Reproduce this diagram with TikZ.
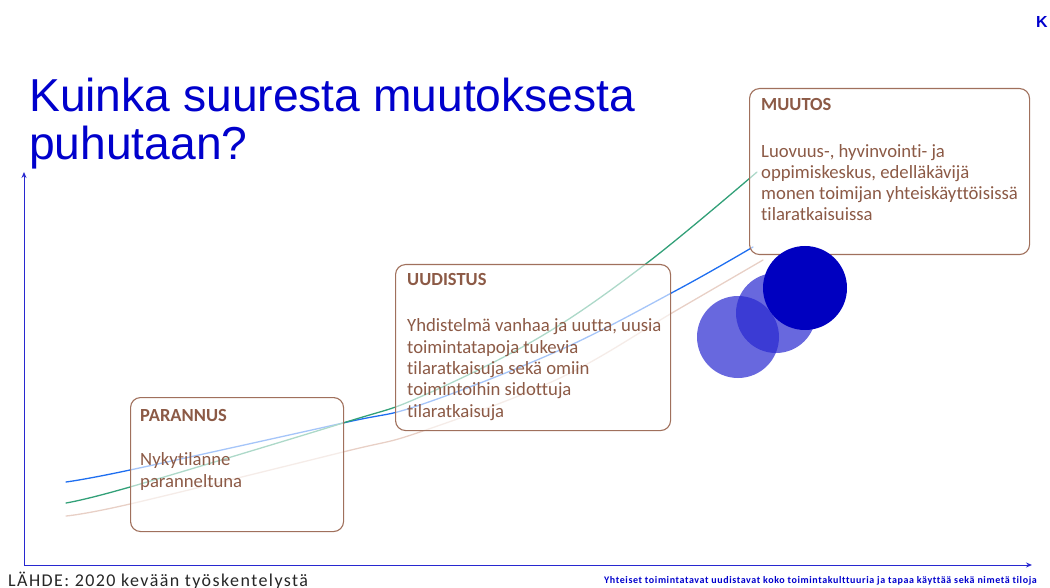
\documentclass[tikz,border=0pt]{standalone}
\usepackage{fontspec}
\setmainfont[Ligatures=NoCommon]{Carlito}
\newfontfamily\arialf{Liberation Sans}
\newfontfamily\spacedf[LetterSpace=8,Ligatures=NoCommon]{Carlito}
\newfontfamily\spacedbf[LetterSpace=6,Ligatures=NoCommon]{Carlito Bold}
\definecolor{titleblue}{RGB}{0,0,204}
\definecolor{axisblue}{RGB}{40,40,208}
\definecolor{boxtext}{RGB}{140,90,70}
\definecolor{boxline}{RGB}{160,112,92}
\definecolor{cblue}{RGB}{30,110,240}
\definecolor{cgreen}{RGB}{50,160,120}
\definecolor{cbeige}{RGB}{232,208,198}
\definecolor{dotdark}{RGB}{0,0,192}
\definecolor{dotlight}{RGB}{40,40,208}
\usetikzlibrary{arrows.meta}
\tikzset{
  stagebox/.style={draw=boxline, line width=1.1pt, rounded corners=10pt, fill=white, fill opacity=0.6, anchor=north west, inner sep=0pt},
  boxhead/.style={anchor=base west, inner sep=0pt, text=boxtext, font=\fontsize{18.5}{21}\selectfont\bfseries},
  boxbody/.style={anchor=base west, inner sep=0pt, text=boxtext, font=\fontsize{18.7}{21.3}\selectfont, align=left},
  curve/.style={line width=1.3pt, line cap=round},
  axis/.style={draw=axisblue, line width=1pt, -{Stealth[length=6pt,width=5pt]}},
  dot/.style={circle, inner sep=0pt, minimum size=#1}
}
\begin{document}
\begin{tikzpicture}[x=1pt,y=-1pt]
\useasboundingbox (0,0) rectangle (1050,588);
% title
\node[anchor=base west, inner sep=0pt, text=titleblue, font=\arialf\fontsize{46.2}{48}\selectfont] (t1) at (29,112) {Kuinka suuresta muutoksesta};
\node[anchor=base west, inner sep=0pt, text=titleblue, font=\arialf\fontsize{46.2}{48}\selectfont] (t2) at (29,160) {puhutaan?};
\node[anchor=base west, inner sep=0pt, text=titleblue, font=\arialf\bfseries\fontsize{16}{18}\selectfont] (k) at (1036,28) {K};
% axes
\coordinate (o) at (24,565);
\coordinate (ytop) at (24,172);
\coordinate (xend) at (1032,565);
\draw[axis] (o) -- (ytop);
\draw[axis] (o) -- (xend);
% curves
\draw[curve, cbeige] plot[smooth, tension=0.6] coordinates {(66,516) (130,504) (343,452) (420,432) (560,378) (677,310) (763,260)};
\draw[curve, cblue] plot[smooth, tension=0.6] coordinates {(66,482) (130,470) (343,423) (420,405) (560,350) (677,290) (753,247)};
\draw[curve, cgreen] plot[smooth, tension=0.6] coordinates {(66,503) (130,487) (343,423) (420,397) (540,337) (647,263) (757,172)};
% boxes
\node[stagebox, minimum width=213pt, minimum height=134pt] (par) at (130,397) {};
\node[stagebox, minimum width=275pt, minimum height=166pt] (uud) at (395,264) {};
\node[stagebox, minimum width=280pt, minimum height=166pt] (muu) at (749,88) {};
\node[boxhead] (parh) at (140,421) {PARANNUS};
\node[boxbody] (parb) at (140,487) {Nykytilanne\\paranneltuna};
\node[boxhead] (uudh) at (407,286) {UUDISTUS};
\node[boxbody] (uudb) at (407,417) {Yhdistelmä vanhaa ja uutta, uusia\\toimintatapoja tukevia\\tilaratkaisuja sekä omiin\\toimintoihin sidottuja\\tilaratkaisuja};
\node[boxhead] (muuh) at (761,111) {MUUTOS};
\node[boxbody] (muub) at (761,221) {Luovuus-, hyvinvointi- ja\\oppimiskeskus, edelläkävijä\\monen toimijan yhteiskäyttöisissä\\tilaratkaisuissa};
% circles
\node[dot=82pt, fill=dotlight, fill opacity=0.7] (c1) at (738,337) {};
\node[dot=80pt, fill=dotlight, fill opacity=0.7] (c2) at (776,313) {};
\node[dot=84pt, fill=dotdark] (c3) at (805,288) {};
% footer
\node[anchor=base west, inner sep=0pt, text=black!85, font=\spacedf\fontsize{18}{20}\selectfont] (src) at (8,586) {LÄHDE: 2020 kevään työskentelystä};
\node[anchor=base west, inner sep=0pt, text=titleblue, font=\spacedbf\fontsize{10}{11}\selectfont] (note) at (604,583) {Yhteiset toimintatavat uudistavat koko toimintakulttuuria ja tapaa käyttää sekä nimetä tiloja};
\end{tikzpicture}
\end{document}
